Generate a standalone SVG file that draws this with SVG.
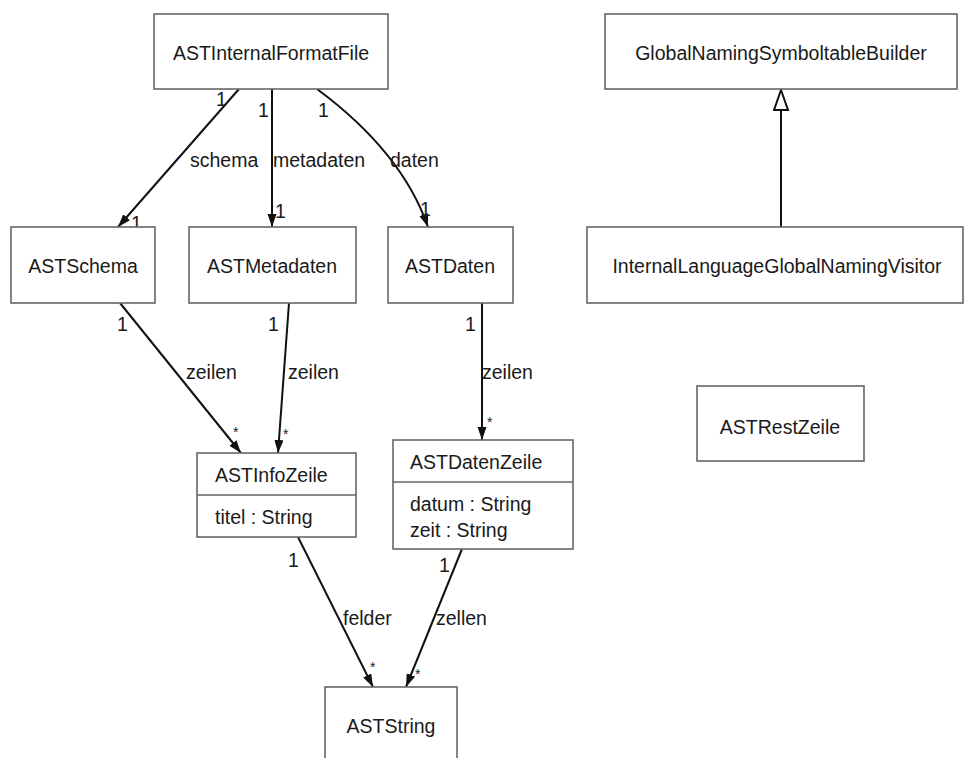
<svg xmlns="http://www.w3.org/2000/svg" width="965" height="758" viewBox="0 0 965 758">
<style>
.box{fill:#fff;stroke:#666;stroke-width:1.6}
.sep{stroke:#666;stroke-width:1.6}
text{font-family:"Liberation Sans",Arial,sans-serif;font-size:19.5px;fill:#1a1a1a}
.c{text-anchor:middle}
.star{font-size:14px}
.edge{fill:none;stroke:#111;stroke-width:2}
</style>
<defs>
<marker id="arr" markerUnits="userSpaceOnUse" markerWidth="14" markerHeight="10" refX="13" refY="4.5" orient="auto">
<path d="M0,0 L13,4.5 L0,9 z" fill="#111"/>
</marker>
<marker id="gen" markerUnits="userSpaceOnUse" markerWidth="24" markerHeight="18" refX="21" refY="8" orient="auto">
<path d="M1,1 L21,8 L1,15 z" fill="#fff" stroke="#111" stroke-width="2"/>
</marker>
</defs>
<rect width="965" height="758" fill="#fff"/>
<g id="connectors">
<path class="edge" d="M239,89 L118,227" marker-end="url(#arr)"/>
<path class="edge" d="M272,89 L272,227" marker-end="url(#arr)"/>
<path class="edge" d="M317,89 Q402,152 428,227" marker-end="url(#arr)"/>
<path class="edge" d="M120,303 L241,453" marker-end="url(#arr)"/>
<path class="edge" d="M289,303 L278,453" marker-end="url(#arr)"/>
<path class="edge" d="M482,303 L482,440" marker-end="url(#arr)"/>
<path class="edge" d="M298,537 L373,687" marker-end="url(#arr)"/>
<path class="edge" d="M462,549 L406,687" marker-end="url(#arr)"/>
<path class="edge" d="M781,227 L781,90" marker-end="url(#gen)"/>
<text x="216" y="106">1</text>
<text x="258" y="117">1</text>
<text x="318" y="117">1</text>
<text x="190" y="167">schema</text>
<text x="273" y="167">metadaten</text>
<text x="390" y="167">daten</text>
<text x="131" y="230">1</text>
<text x="275" y="218">1</text>
<text x="420" y="216">1</text>
<text x="117" y="331">1</text>
<text x="268" y="331">1</text>
<text x="465" y="331">1</text>
<text x="186" y="379">zeilen</text>
<text x="288" y="379">zeilen</text>
<text x="482" y="379">zeilen</text>
<text class="star" x="233" y="437">*</text>
<text class="star" x="283" y="439">*</text>
<text class="star" x="487" y="427">*</text>
<text x="288" y="567">1</text>
<text x="439" y="572">1</text>
<text x="343" y="625">felder</text>
<text x="436" y="625">zellen</text>
<text class="star" x="370" y="672">*</text>
<text class="star" x="415" y="679">*</text>
</g>
<g id="ASTInternalFormatFile">
<rect class="box" x="154" y="14" width="234" height="75"/>
<text class="c" x="271" y="60">ASTInternalFormatFile</text>
</g>
<g id="GlobalNamingSymboltableBuilder">
<rect class="box" x="605" y="14" width="352" height="75"/>
<text class="c" x="781" y="60">GlobalNamingSymboltableBuilder</text>
</g>
<g id="ASTSchema">
<rect class="box" x="11" y="227" width="144" height="76"/>
<text class="c" x="83" y="273">ASTSchema</text>
</g>
<g id="ASTMetadaten">
<rect class="box" x="189" y="227" width="167" height="76"/>
<text class="c" x="272" y="273">ASTMetadaten</text>
</g>
<g id="ASTDaten">
<rect class="box" x="388" y="227" width="125" height="76"/>
<text class="c" x="450" y="273">ASTDaten</text>
</g>
<g id="InternalLanguageGlobalNamingVisitor">
<rect class="box" x="587" y="227" width="376" height="76"/>
<text class="c" x="777" y="273">InternalLanguageGlobalNamingVisitor</text>
</g>
<g id="ASTRestZeile">
<rect class="box" x="697" y="386" width="167" height="75"/>
<text class="c" x="780" y="434">ASTRestZeile</text>
</g>
<g id="ASTInfoZeile">
<rect class="box" x="197" y="453" width="159" height="84"/>
<line class="sep" x1="197" y1="495" x2="356" y2="495"/>
<text x="215" y="482">ASTInfoZeile</text>
<text x="215" y="524">titel : String</text>
</g>
<g id="ASTDatenZeile">
<rect class="box" x="393" y="440" width="180" height="109"/>
<line class="sep" x1="393" y1="482" x2="573" y2="482"/>
<text x="410" y="469">ASTDatenZeile</text>
<text x="410" y="511">datum : String</text>
<text x="410" y="537">zeit : String</text>
</g>
<g id="ASTString">
<rect class="box" x="325" y="687" width="132" height="80"/>
<text class="c" x="391" y="733">ASTString</text>
</g>
</svg>
